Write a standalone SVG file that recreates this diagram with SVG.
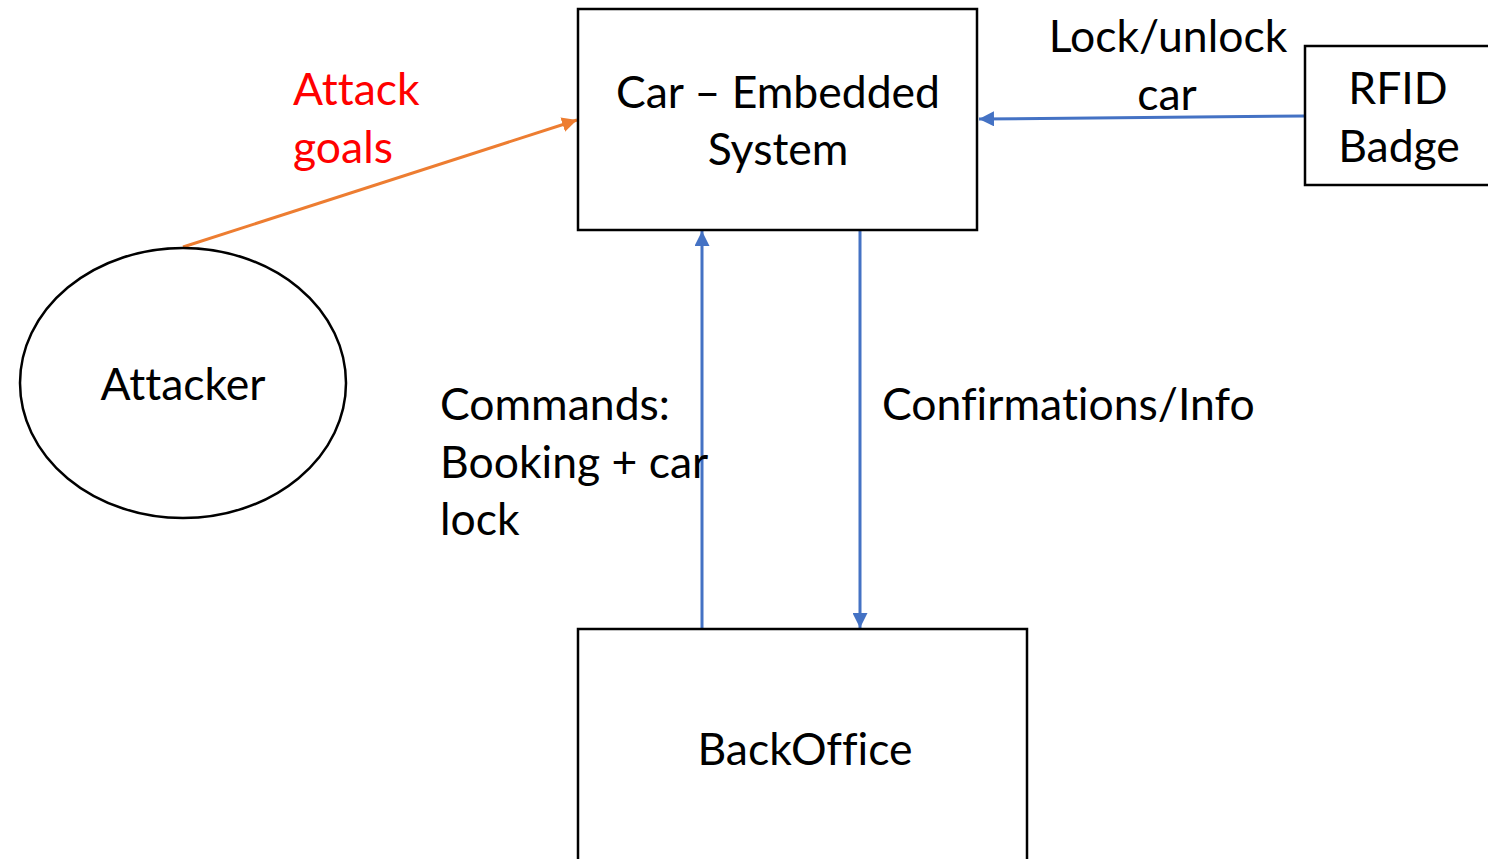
<svg xmlns="http://www.w3.org/2000/svg" width="1488" height="859" viewBox="0 0 1488 859">
  <style>
    .box { fill: #ffffff; stroke: #000000; stroke-width: 2.5; }
    .lbl { font-family: Lato, "Open Sans", sans-serif; font-size: 44.5px; fill: #000000; font-variant-ligatures: none; }
    .mid { text-anchor: middle; }
    .red { fill: #ff0000; }
    .flow-blue { stroke: #4472c4; stroke-width: 3; fill: none; }
    .flow-orange { stroke: #ed7d31; stroke-width: 3; fill: none; }
  </style>
  <defs>
    <marker id="arrBlue" viewBox="0 0 10 10" refX="10" refY="5" markerWidth="5" markerHeight="5" orient="auto" markerUnits="strokeWidth">
      <path d="M0,0 L10,5 L0,10 z" fill="#4472c4"/>
    </marker>
    <marker id="arrOrange" viewBox="0 0 10 10" refX="10" refY="5" markerWidth="5" markerHeight="5" orient="auto" markerUnits="strokeWidth">
      <path d="M0,0 L10,5 L0,10 z" fill="#ed7d31"/>
    </marker>
  </defs>
  <rect width="1488" height="859" fill="#ffffff"/>

  <g id="connectors">
    <line class="flow-orange" x1="183" y1="247" x2="577" y2="120" marker-end="url(#arrOrange)"/>
    <line class="flow-blue" x1="1305" y1="116" x2="979" y2="119" marker-end="url(#arrBlue)"/>
    <line class="flow-blue" x1="702" y1="629" x2="702" y2="231" marker-end="url(#arrBlue)"/>
    <line class="flow-blue" x1="860" y1="230" x2="860" y2="628" marker-end="url(#arrBlue)"/>
  </g>

  <g id="car">
    <rect class="box" x="578" y="9" width="399" height="221"/>
    <text class="lbl mid" x="778" y="108">Car – Embedded</text>
    <text class="lbl mid" x="778" y="165">System</text>
  </g>

  <g id="rfid">
    <rect class="box" x="1305" y="46" width="200" height="139"/>
    <text class="lbl mid" x="1398" y="104">RFID</text>
    <text class="lbl mid" x="1399" y="162">Badge</text>
  </g>

  <g id="attacker">
    <ellipse class="box" cx="183" cy="383" rx="163" ry="135"/>
    <text class="lbl mid" x="183" y="400">Attacker</text>
  </g>

  <g id="backoffice">
    <rect class="box" x="578" y="629" width="449" height="240"/>
    <text class="lbl mid" x="805" y="765">BackOffice</text>
  </g>

  <g id="labels">
    <text class="lbl red" x="293" y="105">Attack</text>
    <text class="lbl red" x="293" y="163">goals</text>
    <text class="lbl mid" x="1168" y="52">Lock/unlock</text>
    <text class="lbl mid" x="1167" y="110">car</text>
    <text class="lbl" x="440" y="420">Commands:</text>
    <text class="lbl" x="440" y="478">Booking + car</text>
    <text class="lbl" x="440" y="535">lock</text>
    <text class="lbl" x="882" y="420">Confirmations/Info</text>
  </g>
</svg>
